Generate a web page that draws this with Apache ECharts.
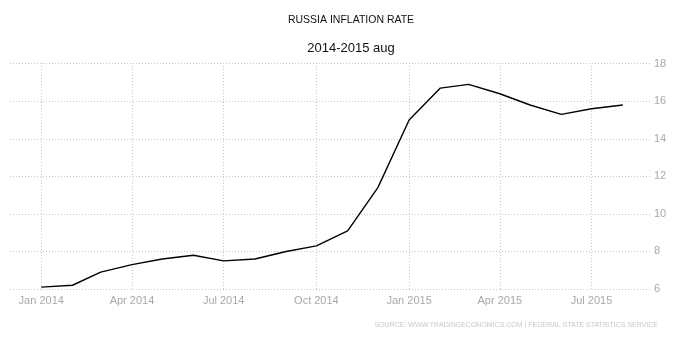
<!DOCTYPE html>
<html><head><meta charset="utf-8">
<script src="https://cdn.jsdelivr.net/npm/echarts@6/dist/echarts.min.js"></script>
<style>html,body{margin:0;padding:0;background:#fff}#c{width:677px;height:344px}</style>
</head><body><div id="c"></div>
<script>
var months = ['2014-01-01','2014-02-01','2014-03-01','2014-04-01','2014-05-01','2014-06-01','2014-07-01','2014-08-01','2014-09-01','2014-10-01','2014-11-01','2014-12-01','2015-01-01','2015-02-01','2015-03-01','2015-04-01','2015-05-01','2015-06-01','2015-07-01','2015-08-01'];
var inflation = [6.1,6.2,6.9,7.3,7.6,7.8,7.5,7.6,8.0,8.3,9.1,11.4,15.0,16.7,16.9,16.4,15.8,15.3,15.6,15.8];
var tickDates = ['2014-01-01','2014-04-01','2014-07-01','2014-10-01','2015-01-01','2015-04-01','2015-07-01'];
var tickLabels = ['Jan 2014','Apr 2014','Jul 2014','Oct 2014','Jan 2015','Apr 2015','Jul 2015'];

function ts(s){var p=s.split('-');return Date.UTC(+p[0],+p[1]-1,+p[2]);}
var tickTs = tickDates.map(ts);

var chart = echarts.init(document.getElementById('c'));
chart.setOption({
  animation:false,
  useUTC:true,
  title:[
    {text:'RUSSIA INFLATION RATE',left:346,textAlign:'center',top:10,textStyle:{fontFamily:'Liberation Sans',fontSize:10.5,fontWeight:'normal',color:'#111'}},
    {text:'2014-2015 aug',left:346,textAlign:'center',top:37,textStyle:{fontFamily:'Liberation Sans',fontSize:13,fontWeight:'normal',color:'#111'}}
  ],
  graphic:[{type:'text',right:19,top:322,style:{text:'SOURCE: WWW.TRADINGECONOMICS.COM | FEDERAL STATE STATISTICS SERVICE',font:'7px "Liberation Sans"',fill:'#c8c8c8'}}],
  grid:{left:10,right:27,top:63.7,bottom:55,containLabel:false},
  xAxis:{
    type:'time',
    min:ts('2013-12-01'),
    max:ts('2015-08-28'),
    axisLine:{show:false},
    axisTick:{show:false},
    axisLabel:{show:false},
    splitLine:{show:false}
  },
  yAxis:{
    type:'value',position:'right',min:6,max:18,interval:2,
    axisLine:{show:false},axisTick:{show:false},
    axisLabel:{color:'#a8a8a8',fontFamily:'Liberation Sans',fontSize:11,margin:4},
    splitLine:{lineStyle:{color:'#c8c8c8',type:[1,2],width:1}}
  },
  series:[{
    type:'line',
    data:months.map(function(m,i){return [ts(m),inflation[i]];}),
    showSymbol:false,symbol:'none',
    lineStyle:{color:'#000',width:1.4},
    z:3,
    markLine:{
      silent:true,symbol:'none',z:1,animation:false,
      lineStyle:{color:'#c8c8c8',type:[1,2],width:1},
      label:{show:true,position:'start',distance:6,color:'#a8a8a8',fontFamily:'Liberation Sans',fontSize:11,
        formatter:function(p){return p.name;}},
      emphasis:{disabled:true},
      data:tickTs.map(function(t,i){return {xAxis:t,name:tickLabels[i]};})
    }
  }]
});
</script></body></html>
